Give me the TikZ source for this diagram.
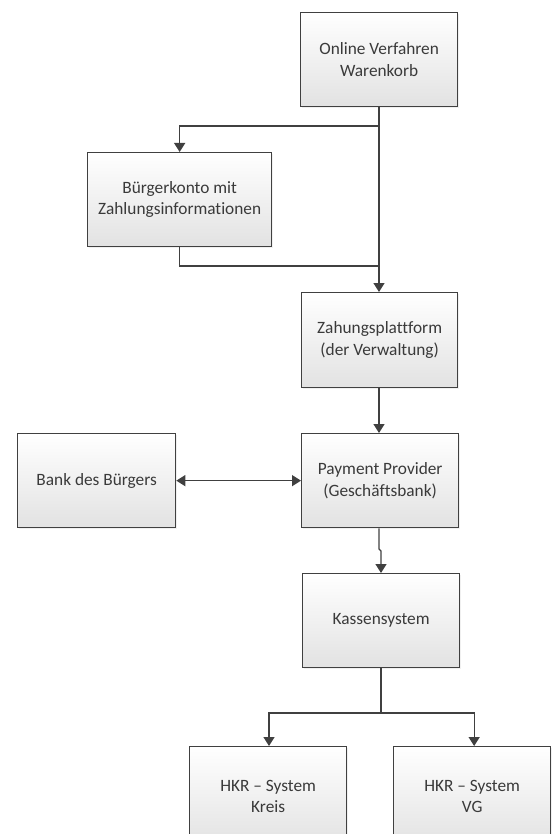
\documentclass[tikz,border=0pt]{standalone}
\usepackage{fontspec}
\setmainfont[Ligatures=NoCommon]{Carlito}
\usetikzlibrary{arrows.meta,shadows}
\definecolor{boxline}{HTML}{404040}
\definecolor{boxfill}{HTML}{E2E2E2}
\definecolor{textgray}{HTML}{3A3A3A}
\begin{document}
\begin{tikzpicture}[x=1pt,y=-1pt,
  box/.style={draw=boxline, line width=1.3pt, top color=white, bottom color=boxfill,
    align=center, text=textgray, font=\fontsize{17.3}{21.5}\selectfont, inner sep=0pt,
    anchor=north west, minimum width=157pt, minimum height=94pt,
    drop shadow={opacity=0.12, shadow xshift=1.5pt, shadow yshift=-1.5pt}},
  conn/.style={draw=boxline, line width=1.3pt},
  tip/.style={conn, -{Triangle[length=9pt,width=11pt]}},
  bitip/.style={conn, {Triangle[length=9pt,width=11pt]}-{Triangle[length=9pt,width=11pt]}}]
  \path[use as bounding box] (0,0) rectangle (552,834);
  \clip (0,0) rectangle (552,834);

  % boxes
  \node[box] (online) at (300,12) {Online Verfahren\\Warenkorb};
  \node[box, minimum width=184pt] (konto) at (87,152) {Bürgerkonto mit\\Zahlungsinformationen};
  \node[box, minimum width=156pt, minimum height=95pt] (platt) at (301,292) {Zahungsplattform\\(der Verwaltung)};
  \node[box] (pay) at (301,433) {Payment Provider\\(Geschäftsbank)};
  \node[box, minimum width=158pt] (bank) at (17,433) {Bank des Bürgers};
  \node[box] (kasse) at (302,573) {Kassensystem};
  \node[box, minimum height=100pt] (kreis) at (189,746) {HKR -- System\\Kreis};
  \node[box, minimum height=100pt] (vg) at (393,746) {HKR -- System\\VG};

  % junction points
  \coordinate (split) at (379,126);
  \coordinate (merge) at (379,266);
  \coordinate (kink) at (379,549);
  \coordinate (fork) at (381,713);

  % connectors
  \draw[tip] (online.south -| split) -- (platt.north -| split);
  \draw[tip] (split) -| (konto.north);
  \draw[conn] (konto.south) |- (merge);
  \draw[tip] (platt.south -| split) -- (pay.north -| split);
  \draw[bitip] (bank.east) -- (pay.west);
  \draw[tip] (pay.south -| kink) -- (kink) -- ++(2,2) -- (kasse.north -| fork);
  \draw[conn] (kasse.south -| fork) -- (fork);
  \draw[tip] (fork) -| ([xshift=-10pt]kreis.north -| 279,0);
  \draw[tip] (fork) -| ([xshift=2pt]vg.north);
\end{tikzpicture}
\end{document}
